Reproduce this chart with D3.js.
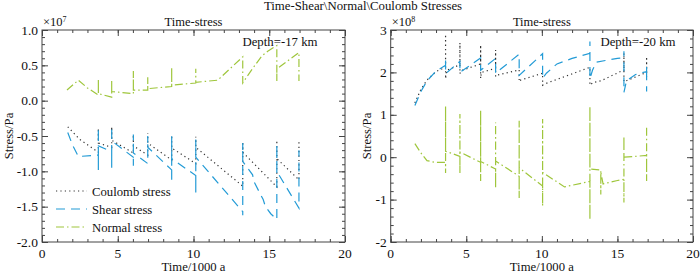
<!DOCTYPE html>
<html>
<head>
<meta charset="utf-8">
<script src="https://cdn.jsdelivr.net/npm/d3@7"></script>
<style>
  body { margin: 0; background: #fff; }
  text { font-family: "Liberation Serif", "Times New Roman", serif; fill: #111; }
</style>
</head>
<body>
<div id="chart"></div>
<script>
// tick labels
var xTicks = [0, 5, 10, 15, 20];
var leftYTicks = [-2.0, -1.5, -1.0, -0.5, 0.0, 0.5, 1.0];
var rightYTicks = [-2, -1, 0, 1, 2, 3];
var seriesNames = ["Coulomb stress", "Shear stress", "Normal stress"];

// Depth = -17 km, values x 1e7 Pa, [time/1000 a, stress]
var coulombLeft = [[1.7,-0.37],[2.5,-0.55],[3.72,-0.73],
  [3.72,-0.39],[3.72,-0.6],[4.6,-0.66],
  [4.6,-0.37],[4.6,-0.56],[6.03,-0.74],
  [6.03,-0.48],[6.03,-0.64],[6.98,-0.77],
  [6.98,-0.46],[6.98,-0.6],[8.56,-0.84],
  [8.56,-0.49],[8.56,-0.67],[10.15,-0.89],
  [10.15,-0.51],[10.15,-0.66],[13.25,-1.21],
  [13.25,-0.58],[13.25,-0.73],[15.5,-1.22],
  [15.5,-0.56],[15.5,-0.82],[16.96,-1.12],
  [16.96,-0.58]];
var shearLeft = [[1.7,-0.45],[2.0,-0.62],[2.4,-0.79],[3.72,-0.77],
  [3.72,-0.98],[3.72,-0.39],[3.72,-0.64],[4.6,-0.72],
  [4.6,-0.95],[4.6,-0.37],[4.6,-0.57],[6.03,-0.8],
  [6.03,-0.92],[6.03,-0.48],[6.03,-0.74],[6.98,-0.89],
  [6.98,-0.5],[6.98,-0.66],[8.56,-0.98],
  [8.56,-1.12],[8.56,-0.5],[8.56,-0.82],[10.15,-1.06],
  [10.15,-1.3],[10.15,-0.55],[10.15,-0.8],[13.25,-1.57],
  [13.25,-1.62],[13.25,-0.6],[13.25,-0.86],[13.9,-1.05],[14.0,-1.15],[14.6,-1.4],[14.75,-1.5],[15.1,-1.6],[15.5,-1.68],
  [15.5,-0.62],[15.5,-1.0],[16.96,-1.52],
  [16.96,-1.38],[16.96,-0.7]];
var normalLeft = [[1.65,0.15],[2.4,0.29],[3.0,0.18],[3.72,0.08],
  [3.72,0.31],[3.72,0.10],[4.6,0.05],
  [4.6,0.29],[4.6,0.13],[6.03,0.10],
  [6.03,0.42],[6.03,0.15],[6.98,0.15],
  [6.98,0.33],[6.98,0.17],[8.56,0.20],
  [8.56,0.47],[8.56,0.22],[10.15,0.25],
  [10.15,0.45],[10.15,0.26],[11.6,0.29],[13.25,0.62],
  [13.25,0.25],[13.85,0.44],[14.5,0.63],[14.9,0.70],[15.5,0.78],
  [15.5,0.28],[15.5,0.45],[16.96,0.68],
  [16.96,0.28]];

// Depth = -20 km, values x 1e8 Pa
var coulombRight = [[1.6,1.28],[2.0,1.6],[2.4,1.82],[3.0,2.02],[3.63,2.12],
  [3.63,2.9],[3.63,1.85],[3.7,2.05],[4.58,2.18],
  [4.58,2.7],[4.58,1.97],[4.65,2.04],[5.95,2.2],
  [5.95,2.65],[5.95,1.86],[6.0,2.0],[6.94,2.1],
  [6.94,2.53],[6.94,1.9],[7.1,1.94],[8.5,2.06],
  [8.5,1.78],[8.6,1.82],[10.05,1.98],
  [10.05,1.7],[10.2,1.73],[13.18,2.12],
  [13.18,1.7],[13.4,1.76],[13.9,1.8],[15.2,2.02],[15.43,2.05],
  [15.43,2.45],[15.43,1.78],[16.93,2.0],
  [16.93,2.37],[16.93,1.9]];
var shearRight = [[1.6,1.22],[2.0,1.55],[2.4,1.8],[3.0,2.03],[3.63,2.17],
  [3.63,2.32],[3.63,1.97],[4.58,2.26],
  [4.58,2.0],[5.95,2.34],
  [5.95,2.05],[6.94,2.33],
  [6.94,1.98],[8.5,2.43],
  [8.5,1.93],[10.05,2.44],
  [10.05,1.86],[10.3,1.98],[11.0,2.2],[12.0,2.33],[13.18,2.45],
  [13.18,2.73],[13.18,1.85],[13.35,2.05],[13.6,2.24],[14.2,2.28],[15.0,2.33],[15.43,2.35],
  [15.43,2.5],[15.43,1.53],[15.6,1.8],[16.2,1.95],[16.93,2.02],
  [16.93,2.15],[16.93,1.55]];
var normalRight = [[1.6,0.32],[2.0,0.1],[2.4,-0.08],[2.9,-0.12],[3.63,-0.12],
  [3.63,-0.37],[3.63,1.2],[3.63,0.14],[4.58,0.02],
  [4.58,-0.37],[4.58,1.02],[4.58,0.12],[5.95,-0.12],
  [5.95,-0.56],[5.95,1.1],[5.95,-0.1],[6.94,-0.28],
  [6.94,-0.72],[6.94,0.82],[6.94,-0.09],[8.5,-0.45],
  [8.5,-0.96],[8.5,0.86],[8.5,-0.25],[10.05,-0.68],
  [10.05,-1.15],[10.05,0.9],[10.05,-0.36],[11.5,-0.7],[13.18,-0.57],
  [13.18,-1.47],[13.18,1.2],[13.18,-0.28],[13.9,-0.3],
  [13.9,-0.88],[13.9,-0.35],[14.05,-0.63],[15.0,-0.55],[15.43,-0.52],
  [15.43,-1.07],[15.43,0.5],[15.43,0.0],[16.93,0.04],
  [16.93,-0.56],[16.93,0.75]];

var styles = [
  {color: "#333", dash: "1.2,3.2"},
  {color: "#239bd6", dash: "9,6"},
  {color: "#9fc63c", dash: "8,3,1.5,3"}
];

var svg = d3.select("#chart").append("svg")
    .attr("width", 700)
    .attr("height", 274);

svg.append("text")
    .attr("x", 363).attr("y", 10)
    .attr("text-anchor", "middle")
    .style("font-size", "12.8px")
    .text("Time-Shear\\Normal\\Coulomb Stresses");

var plotTop = 30, plotBottom = 242;

function drawPanel(cfg) {
    var x = d3.scaleLinear().domain([0, 20]).range([cfg.left, cfg.right]);
    var y = d3.scaleLinear().domain(cfg.yDomain).range([plotBottom, plotTop]);
    var g = svg.append("g");

    // ticks on all four sides, pointing in
    function ticks(axisFn, scale, values, size, transform) {
        g.append("g")
            .attr("transform", transform)
            .call(axisFn(scale).tickValues(values).tickSize(size).tickFormat(""))
            .call(function (a) { a.select(".domain").remove(); })
            .selectAll("line").attr("stroke", "#444");
    }
    var xMinor = d3.range(0, 21, 1);
    var yMinor = d3.range(cfg.yDomain[0], cfg.yDomain[1] + 1e-9, cfg.yMinorStep);
    ticks(d3.axisBottom, x, xMinor, -3, "translate(0," + plotBottom + ")");
    ticks(d3.axisTop, x, xMinor, -3, "translate(0," + plotTop + ")");
    ticks(d3.axisLeft, y, yMinor, -3, "translate(" + cfg.left + ",0)");
    ticks(d3.axisRight, y, yMinor, -3, "translate(" + cfg.right + ",0)");
    ticks(d3.axisBottom, x, xTicks, -6, "translate(0," + plotBottom + ")");
    ticks(d3.axisTop, x, xTicks, -6, "translate(0," + plotTop + ")");
    ticks(d3.axisLeft, y, cfg.yTicks, -6, "translate(" + cfg.left + ",0)");
    ticks(d3.axisRight, y, cfg.yTicks, -6, "translate(" + cfg.right + ",0)");

    // labels
    g.selectAll(".xl").data(xTicks).enter().append("text")
        .attr("x", function (d) { return x(d); })
        .attr("y", 258)
        .attr("text-anchor", "middle")
        .style("font-size", "13.5px")
        .text(function (d) { return d; });
    g.selectAll(".yl").data(cfg.yTicks).enter().append("text")
        .attr("x", cfg.left - 4)
        .attr("y", function (d) { return y(d) + 4.5; })
        .attr("text-anchor", "end")
        .style("font-size", "13.5px")
        .text(cfg.fmt);

    g.append("rect")
        .attr("x", cfg.left).attr("y", plotTop)
        .attr("width", cfg.right - cfg.left).attr("height", plotBottom - plotTop)
        .attr("fill", "none").attr("stroke", "#444");

    var line = d3.line()
        .x(function (d) { return x(d[0]); })
        .y(function (d) { return y(d[1]); });
    cfg.series.forEach(function (s, i) {
        g.append("path")
            .attr("d", line(s))
            .attr("fill", "none")
            .attr("stroke", styles[i].color)
            .attr("stroke-width", 1.2)
            .attr("stroke-dasharray", styles[i].dash);
    });

    var mid = (cfg.left + cfg.right) / 2;
    g.append("text").attr("x", mid).attr("y", 26)
        .attr("text-anchor", "middle").style("font-size", "12.5px")
        .text("Time-stress");
    g.append("text").attr("x", mid).attr("y", 271)
        .attr("text-anchor", "middle").style("font-size", "12.7px")
        .text("Time/1000 a");
    g.append("text")
        .attr("transform", "translate(" + cfg.ylabX + "," + ((plotTop + plotBottom) / 2) + ") rotate(-90)")
        .attr("text-anchor", "middle").style("font-size", "12.7px")
        .text("Stress/Pa");
    var exp = g.append("text").attr("x", cfg.left + 1).attr("y", 26)
        .style("font-size", "12.5px");
    exp.append("tspan").text("\u00d710");
    exp.append("tspan").attr("dy", -4.5).style("font-size", "8px").text(cfg.exponent);
    g.append("text").attr("x", cfg.depthX).attr("y", 46)
        .attr("text-anchor", "middle").style("font-size", "12.8px")
        .text(cfg.depth);

    return {x: x, y: y, g: g};
}

var leftPanel = drawPanel({
    left: 42, right: 345, yDomain: [-2, 1], yTicks: leftYTicks, yMinorStep: 0.1,
    fmt: function (d) { return d.toFixed(1); }, ylabX: 13, exponent: "7",
    depth: "Depth=-17 km", depthX: 280,
    series: [coulombLeft, shearLeft, normalLeft]
});
drawPanel({
    left: 390.7, right: 693, yDomain: [-2, 3], yTicks: rightYTicks, yMinorStep: 0.2,
    fmt: function (d) { return d; }, ylabX: 371, exponent: "8",
    depth: "Depth=-20 km", depthX: 638,
    series: [coulombRight, shearRight, normalRight]
});

// legend in the left panel
var legend = leftPanel.g.selectAll(".leg").data(seriesNames).enter().append("g")
    .attr("transform", function (d, i) { return "translate(56," + (191 + i * 18) + ")"; });
legend.append("line")
    .attr("x1", 0).attr("x2", 31).attr("y1", 0).attr("y2", 0)
    .attr("stroke", function (d, i) { return styles[i].color; })
    .attr("stroke-width", 1.2)
    .attr("stroke-dasharray", function (d, i) { return styles[i].dash; });
legend.append("text")
    .attr("x", 36).attr("y", 4.5)
    .style("font-size", "12.7px")
    .text(function (d) { return d; });
</script>
</body>
</html>
